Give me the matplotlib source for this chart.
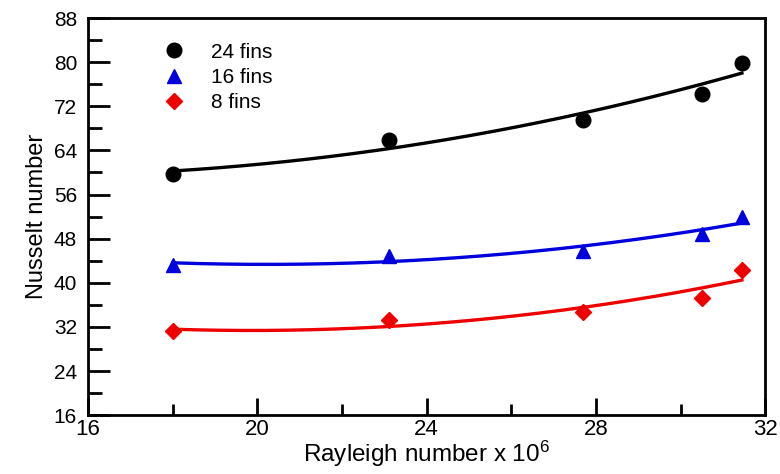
import matplotlib
matplotlib.use("Agg")
import matplotlib.pyplot as plt
import numpy as np
from matplotlib.ticker import MultipleLocator

plt.rcParams['font.family'] = ['Liberation Sans', 'DejaVu Sans']
plt.rcParams['mathtext.default'] = 'regular'

# Rayleigh number x 10^6
ra = [18.0, 23.1, 27.7, 30.5, 31.45]
# Nusselt number for each fin count
nu_24 = [59.8, 65.8, 69.6, 74.3, 79.9]
nu_16 = [43.3, 44.9, 45.7, 48.8, 51.9]
nu_8 = [31.2, 33.3, 34.7, 37.3, 42.3]

labels = ["24 fins", "16 fins", "8 fins"]
colors = ["black", "#0000dd", "#ee0000"]
markers = ["o", "^", "D"]
msizes = [10.5, 9.5, 8]


def main():
    fig = plt.figure(figsize=(7.8, 4.74), dpi=100)
    ax = fig.add_axes([0.113, 0.124, 0.868, 0.838])

    x = np.array(ra)
    xs = np.linspace(x.min(), x.max(), 200)
    for y, lab, col, mk, ms in zip([nu_24, nu_16, nu_8], labels, colors, markers, msizes):
        ax.plot(x, y, linestyle="none", marker=mk, color=col, markersize=ms, label=lab)
        # second order trend line through the measured points
        coef = np.polyfit(x, y, 2)
        ax.plot(xs, np.polyval(coef, xs), color=col, linewidth=2.4)

    ax.set_xlim(16, 32)
    ax.set_ylim(16, 88)
    ax.xaxis.set_major_locator(MultipleLocator(4))
    ax.xaxis.set_minor_locator(MultipleLocator(2))
    ax.yaxis.set_major_locator(MultipleLocator(8))
    ax.yaxis.set_minor_locator(MultipleLocator(4))
    ax.tick_params(axis="both", which="both", direction="in", width=2, top=False, right=False)
    ax.tick_params(axis="x", which="major", length=12, labelsize=16, pad=3)
    ax.tick_params(axis="x", which="minor", length=8)
    ax.tick_params(axis="y", which="major", length=16, labelsize=15, pad=8)
    ax.tick_params(axis="y", which="minor", length=10)
    for s in ax.spines.values():
        s.set_linewidth(2)

    ax.set_xlabel("Rayleigh number x 10$^{6}$", fontsize=17.5, labelpad=-1)
    ax.set_ylabel("Nusselt number", fontsize=17, labelpad=4)

    ax.legend(loc="upper left", bbox_to_anchor=(0.08, 0.985), frameon=False,
              fontsize=15, handletextpad=1.2, labelspacing=0.3, handlelength=1.2)

    fig.savefig("out.png", dpi=100)


if __name__ == "__main__":
    main()
